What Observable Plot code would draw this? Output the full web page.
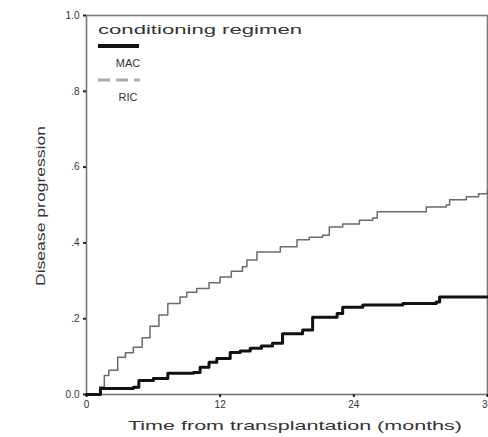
<!DOCTYPE html>
<html>
<head>
<meta charset="utf-8">
<script src="https://cdn.jsdelivr.net/npm/d3@7"></script>
<script src="https://cdn.jsdelivr.net/npm/@observablehq/plot@0.6"></script>
<style>
  html, body { margin: 0; padding: 0; background: #fff; }
  #chart { position: relative; width: 488px; height: 437px; }
  svg { font-family: "Liberation Sans", Arial, sans-serif; }
</style>
</head>
<body>
<div id="chart"></div>
<script>
// Months from transplantation (step change points) and cumulative incidence
const macMonths = [0, 1.25, 4.2, 4.7, 6.0, 7.3, 9.6, 10.2, 11.0, 11.7, 12.9, 13.8, 14.7, 15.7, 16.7, 17.6, 19.4, 20.3, 22.5, 23.0, 24.8, 28.4, 31.4, 31.7, 36];
const macValues = [0, 0.016, 0.019, 0.037, 0.042, 0.056, 0.058, 0.072, 0.085, 0.095, 0.111, 0.115, 0.122, 0.128, 0.135, 0.16, 0.17, 0.204, 0.214, 0.23, 0.236, 0.24, 0.244, 0.257, 0.257];

const ricMonths = [0, 1.2, 1.6, 2.0, 2.8, 3.5, 4.2, 5.0, 5.7, 6.5, 7.3, 8.4, 9.0, 9.9, 11.0, 12.0, 13.0, 14.0, 14.4, 15.3, 17.4, 18.9, 20.0, 21.2, 21.8, 23.0, 24.5, 25.7, 26.1, 30.5, 32.3, 32.6, 34.1, 35.2, 36];
const ricValues = [0, 0.02, 0.05, 0.064, 0.098, 0.11, 0.125, 0.15, 0.18, 0.21, 0.24, 0.257, 0.27, 0.28, 0.295, 0.31, 0.325, 0.337, 0.355, 0.376, 0.39, 0.408, 0.415, 0.42, 0.442, 0.45, 0.46, 0.466, 0.482, 0.495, 0.5, 0.514, 0.522, 0.53, 0.54];

const xTicks = [0, 12, 24, 36];
const yTicks = [0, 0.2, 0.4, 0.6, 0.8, 1.0];
const yTickLabels = ["0.0", ".2", ".4", ".6", ".8", "1.0"];
const groups = ["MAC", "RIC"];
const legendTitle = "conditioning regimen";
const xLabel = "Time from transplantation (months)";
const yLabel = "Disease progression";

const mac = macMonths.map((t, i) => ({t, v: macValues[i], g: groups[0]}));
const ric = ricMonths.map((t, i) => ({t, v: ricValues[i], g: groups[1]}));

const plot = Plot.plot({
  width: 488,
  height: 437,
  marginLeft: 86,
  marginRight: 1,
  marginTop: 15,
  marginBottom: 43,
  x: {domain: [0, 36]},
  y: {domain: [0, 1]},
  style: {fontSize: "10px", color: "#333", background: "#fff"},
  marks: [
    Plot.frame({stroke: "#777", strokeWidth: 1.6}),
    Plot.axisX({ticks: xTicks, tickSize: 3, tickPadding: 3, stroke: "#222", strokeWidth: 2,
      label: null, fontSize: 10}),
    Plot.axisY({ticks: yTicks, tickSize: 3, tickPadding: 4, stroke: "#222", strokeWidth: 2,
      tickFormat: (d) => yTickLabels[yTicks.indexOf(d)], label: null, fontSize: 10}),
    Plot.line(ric, {x: "t", y: "v", curve: "step-after", stroke: "#6a6a6a", strokeWidth: 1.5}),
    Plot.line(mac, {x: "t", y: "v", curve: "step-after", stroke: "#111", strokeWidth: 3})
  ]
});
document.getElementById("chart").appendChild(plot);

const svg = d3.select(plot);
// Axis titles
svg.append("text")
  .attr("x", 295).attr("y", 430)
  .attr("text-anchor", "middle")
  .attr("fill", "#333")
  .style("font-size", "13px")
  .attr("textLength", 334).attr("lengthAdjust", "spacingAndGlyphs")
  .text(xLabel);
svg.append("text")
  .attr("transform", "translate(45,206) rotate(-90)")
  .attr("text-anchor", "middle")
  .attr("fill", "#333")
  .style("font-size", "13px")
  .attr("textLength", 160).attr("lengthAdjust", "spacingAndGlyphs")
  .text(yLabel);

// Legend inside plot area
const lg = svg.append("g").attr("fill", "#333");
lg.append("text").attr("x", 98).attr("y", 34).attr("text-anchor", "start").style("font-size", "12px")
  .attr("textLength", 204).attr("lengthAdjust", "spacingAndGlyphs").text(legendTitle);
lg.append("line").attr("x1", 98).attr("x2", 139).attr("y1", 46).attr("y2", 46)
  .attr("stroke", "#111").attr("stroke-width", 4);
lg.append("text").attr("x", 128).attr("y", 67).attr("text-anchor", "middle")
  .style("font-size", "11px").text(groups[0]);
lg.append("line").attr("x1", 98).attr("x2", 140).attr("y1", 80).attr("y2", 80)
  .attr("stroke", "#aaa").attr("stroke-width", 3).attr("stroke-dasharray", "12,6");
lg.append("text").attr("x", 128).attr("y", 101).attr("text-anchor", "middle")
  .style("font-size", "11px").text(groups[1]);
</script>
</body>
</html>
